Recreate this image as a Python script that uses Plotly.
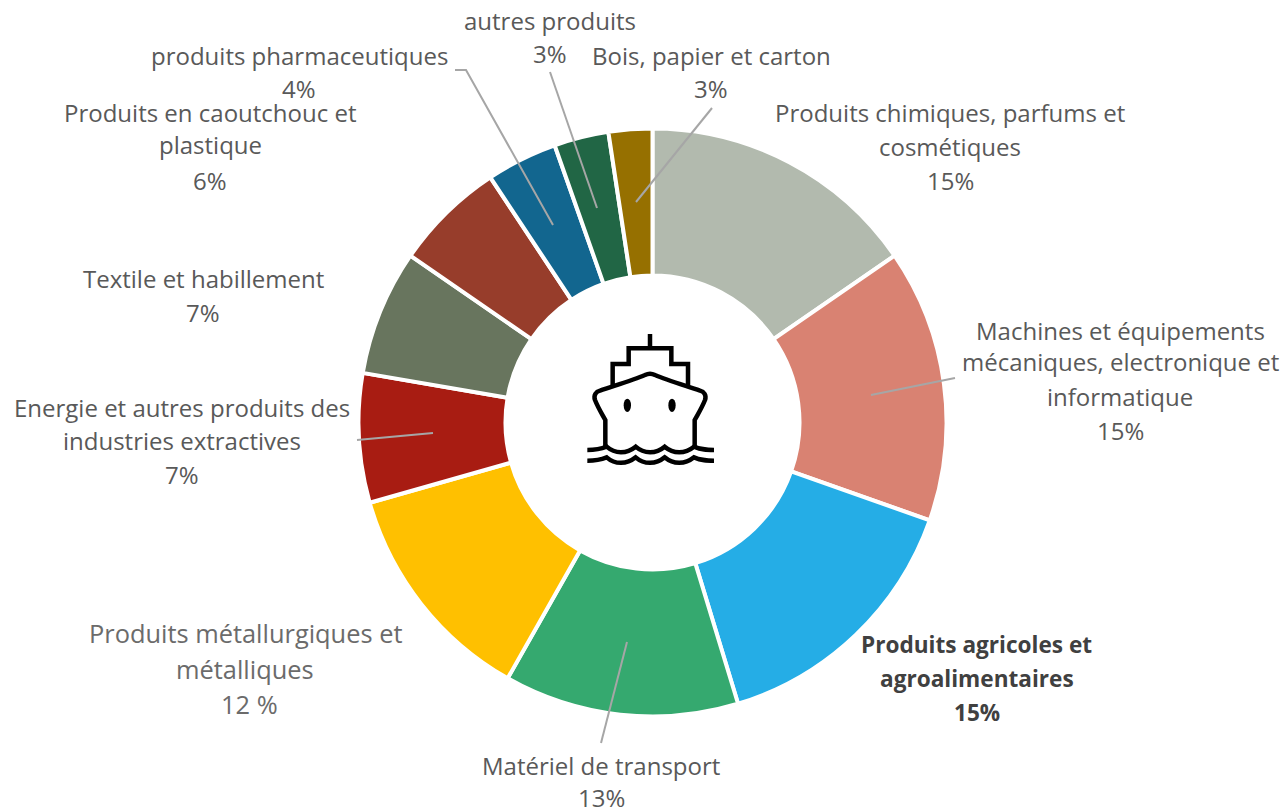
import plotly.graph_objects as go

W, H = 1284, 807

categories = ["Produits chimiques, parfums et cosmétiques",
              "Machines et équipements mécaniques, electronique et informatique",
              "Produits agricoles et agroalimentaires", "Matériel de transport",
              "Produits métallurgiques et métalliques",
              "Energie et autres produits des industries extractives",
              "Textile et habillement", "Produits en caoutchouc et plastique",
              "produits pharmaceutiques", "autres produits", "Bois, papier et carton"]
values = [15.4, 15.0, 14.9, 12.9, 12.4, 7.1, 6.9, 6.1, 3.9, 3.0, 2.4]
colors = ["#B2BAAE", "#D98272", "#25ADE6", "#35A96F", "#FFC000", "#A81C12",
          "#68755E", "#973D2B", "#12668F", "#216645", "#967000"]

G = "#595959"
M = "#6b6b6b"
B = "#404040"
label_lines = [
    ("autres produits", 550, 20, 24, False, G), ("3%", 550, 54, 24, False, G),
    ("Bois, papier et carton", 711, 55, 24, False, G), ("3%", 711, 88, 24, False, G),
    ("produits pharmaceutiques", 299, 55, 24, False, G), ("4%", 299, 89, 24, False, G),
    ("Produits en caoutchouc et", 210, 113, 24, False, G), ("plastique", 210, 145, 24, False, G), ("6%", 210, 180, 24, False, G),
    ("Textile et habillement", 203, 278, 24, False, G), ("7%", 203, 312, 24, False, G),
    ("Energie et autres produits des", 182, 408, 24, False, G), ("industries extractives", 182, 440, 24, False, G), ("7%", 182, 474, 24, False, G),
    ("Produits métallurgiques et", 245, 633, 25.4, False, M), ("métalliques", 245, 669, 25.4, False, M), ("12 %", 249, 704, 25.4, False, M),
    ("Matériel de transport", 601, 765, 24, False, G), ("13%", 601, 797, 24, False, G),
    ("Produits agricoles et", 977, 644, 22.6, True, B), ("agroalimentaires", 977, 678, 22.6, True, B), ("15%", 977, 712, 22.6, True, B),
    ("Machines et équipements", 1120, 330, 24, False, G), ("mécaniques, electronique et", 1120, 362, 24, False, G),
    ("informatique", 1120, 396, 24, False, G), ("15%", 1120, 430, 24, False, G),
    ("Produits chimiques, parfums et", 950, 113, 24, False, G), ("cosmétiques", 950, 146, 24, False, G), ("15%", 950, 180, 24, False, G),
]

leaders = [
    [(455, 70), (466, 70), (553, 225)],
    [(550, 72), (597, 208)],
    [(712, 108), (636, 202)],
    [(955, 378), (871, 395)],
    [(357, 440), (433, 433)],
    [(601, 743), (627, 642)],
]


def poly(pts):
    return "M " + " L ".join(f"{x / W:.5f},{1 - y / H:.5f}" for x, y in pts)


def curve(start, segs):
    d = f"M {start[0] / W:.5f},{1 - start[1] / H:.5f}"
    for (a, b), (c, e), (f, g) in segs:
        d += (f" C {a / W:.5f},{1 - b / H:.5f} {c / W:.5f},{1 - e / H:.5f} "
              f"{f / W:.5f},{1 - g / H:.5f}")
    return d


cx, cy, r = 652.5, 422.5, 294
fig = go.Figure(go.Pie(
    labels=categories, values=values, sort=False, direction="clockwise", rotation=0,
    hole=0.5, textinfo="none", hoverinfo="label+percent",
    marker=dict(colors=colors, line=dict(color="white", width=4)),
    domain=dict(x=[(cx - r) / W, (cx + r) / W], y=[1 - (cy + r) / H, 1 - (cy - r) / H]),
    showlegend=False,
))

for text, x, y, size, bold, col in label_lines:
    fig.add_annotation(xref="paper", yref="paper", x=x / W, y=1 - y / H, showarrow=False,
                       xanchor="center", yanchor="middle",
                       text=f"<b>{text}</b>" if bold else text,
                       font=dict(family="Open Sans", size=size, color=col))

shapes = [dict(type="path", xref="paper", yref="paper", path=poly(p),
               line=dict(color="#A6A6A6", width=2), fillcolor="rgba(0,0,0,0)") for p in leaders]

ship = dict(type="path", xref="paper", yref="paper", line=dict(color="black", width=4.5),
            fillcolor="rgba(0,0,0,0)")
Z = lambda zx, zy: (570 + zx / 3, 320 + zy / 3)
# superstructure
shapes.append({**ship, "path": poly([Z(240, 42), Z(240, 85)])})
shapes.append({**ship, "path": poly([Z(128, 195), Z(128, 132), Z(176, 132), Z(176, 85),
                                     Z(304, 85), Z(304, 132), Z(354, 132), Z(354, 195)])})
# hull
shapes.append({**ship, "path": curve(Z(106, 378), [
    (Z(106, 340), Z(106, 320), Z(106, 300)),
    (Z(95, 280), Z(85, 265), Z(75, 240)),
    (Z(70, 225), Z(78, 215), Z(90, 212)),
    (Z(140, 195), Z(190, 180), Z(225, 165)),
    (Z(235, 160), Z(245, 160), Z(255, 165)),
    (Z(290, 180), Z(340, 195), Z(390, 212)),
    (Z(402, 215), Z(410, 225), Z(405, 240)),
    (Z(395, 265), Z(385, 280), Z(374, 300)),
    (Z(374, 320), Z(374, 340), Z(374, 378)),
])})
# waves
for zy in (390, 422):
    shapes.append({**ship, "path": curve(Z(52, zy), [
        (Z(70, zy), Z(85, zy), Z(110, zy - 10)),
        (Z(135, zy + 12), Z(170, zy + 12), Z(197, zy - 10)),
        (Z(222, zy + 12), Z(258, zy + 12), Z(284, zy - 10)),
        (Z(310, zy + 12), Z(345, zy + 12), Z(372, zy - 10)),
        (Z(395, zy), Z(410, zy), Z(432, zy)),
    ])})
# portholes
for zx in (172, 306):
    shapes.append(dict(type="circle", xref="paper", yref="paper",
                       x0=(570 + (zx - 11) / 3) / W, x1=(570 + (zx + 11) / 3) / W,
                       y0=1 - (320 + 276 / 3) / H, y1=1 - (320 + 236 / 3) / H,
                       fillcolor="black", line=dict(width=0)))

fig.update_layout(width=W, height=H, margin=dict(l=0, r=0, t=0, b=0),
                  paper_bgcolor="white", shapes=shapes)
fig.write_html("out.html", post_script="document.body.style.margin='0';",
               config=dict(displayModeBar=False))
